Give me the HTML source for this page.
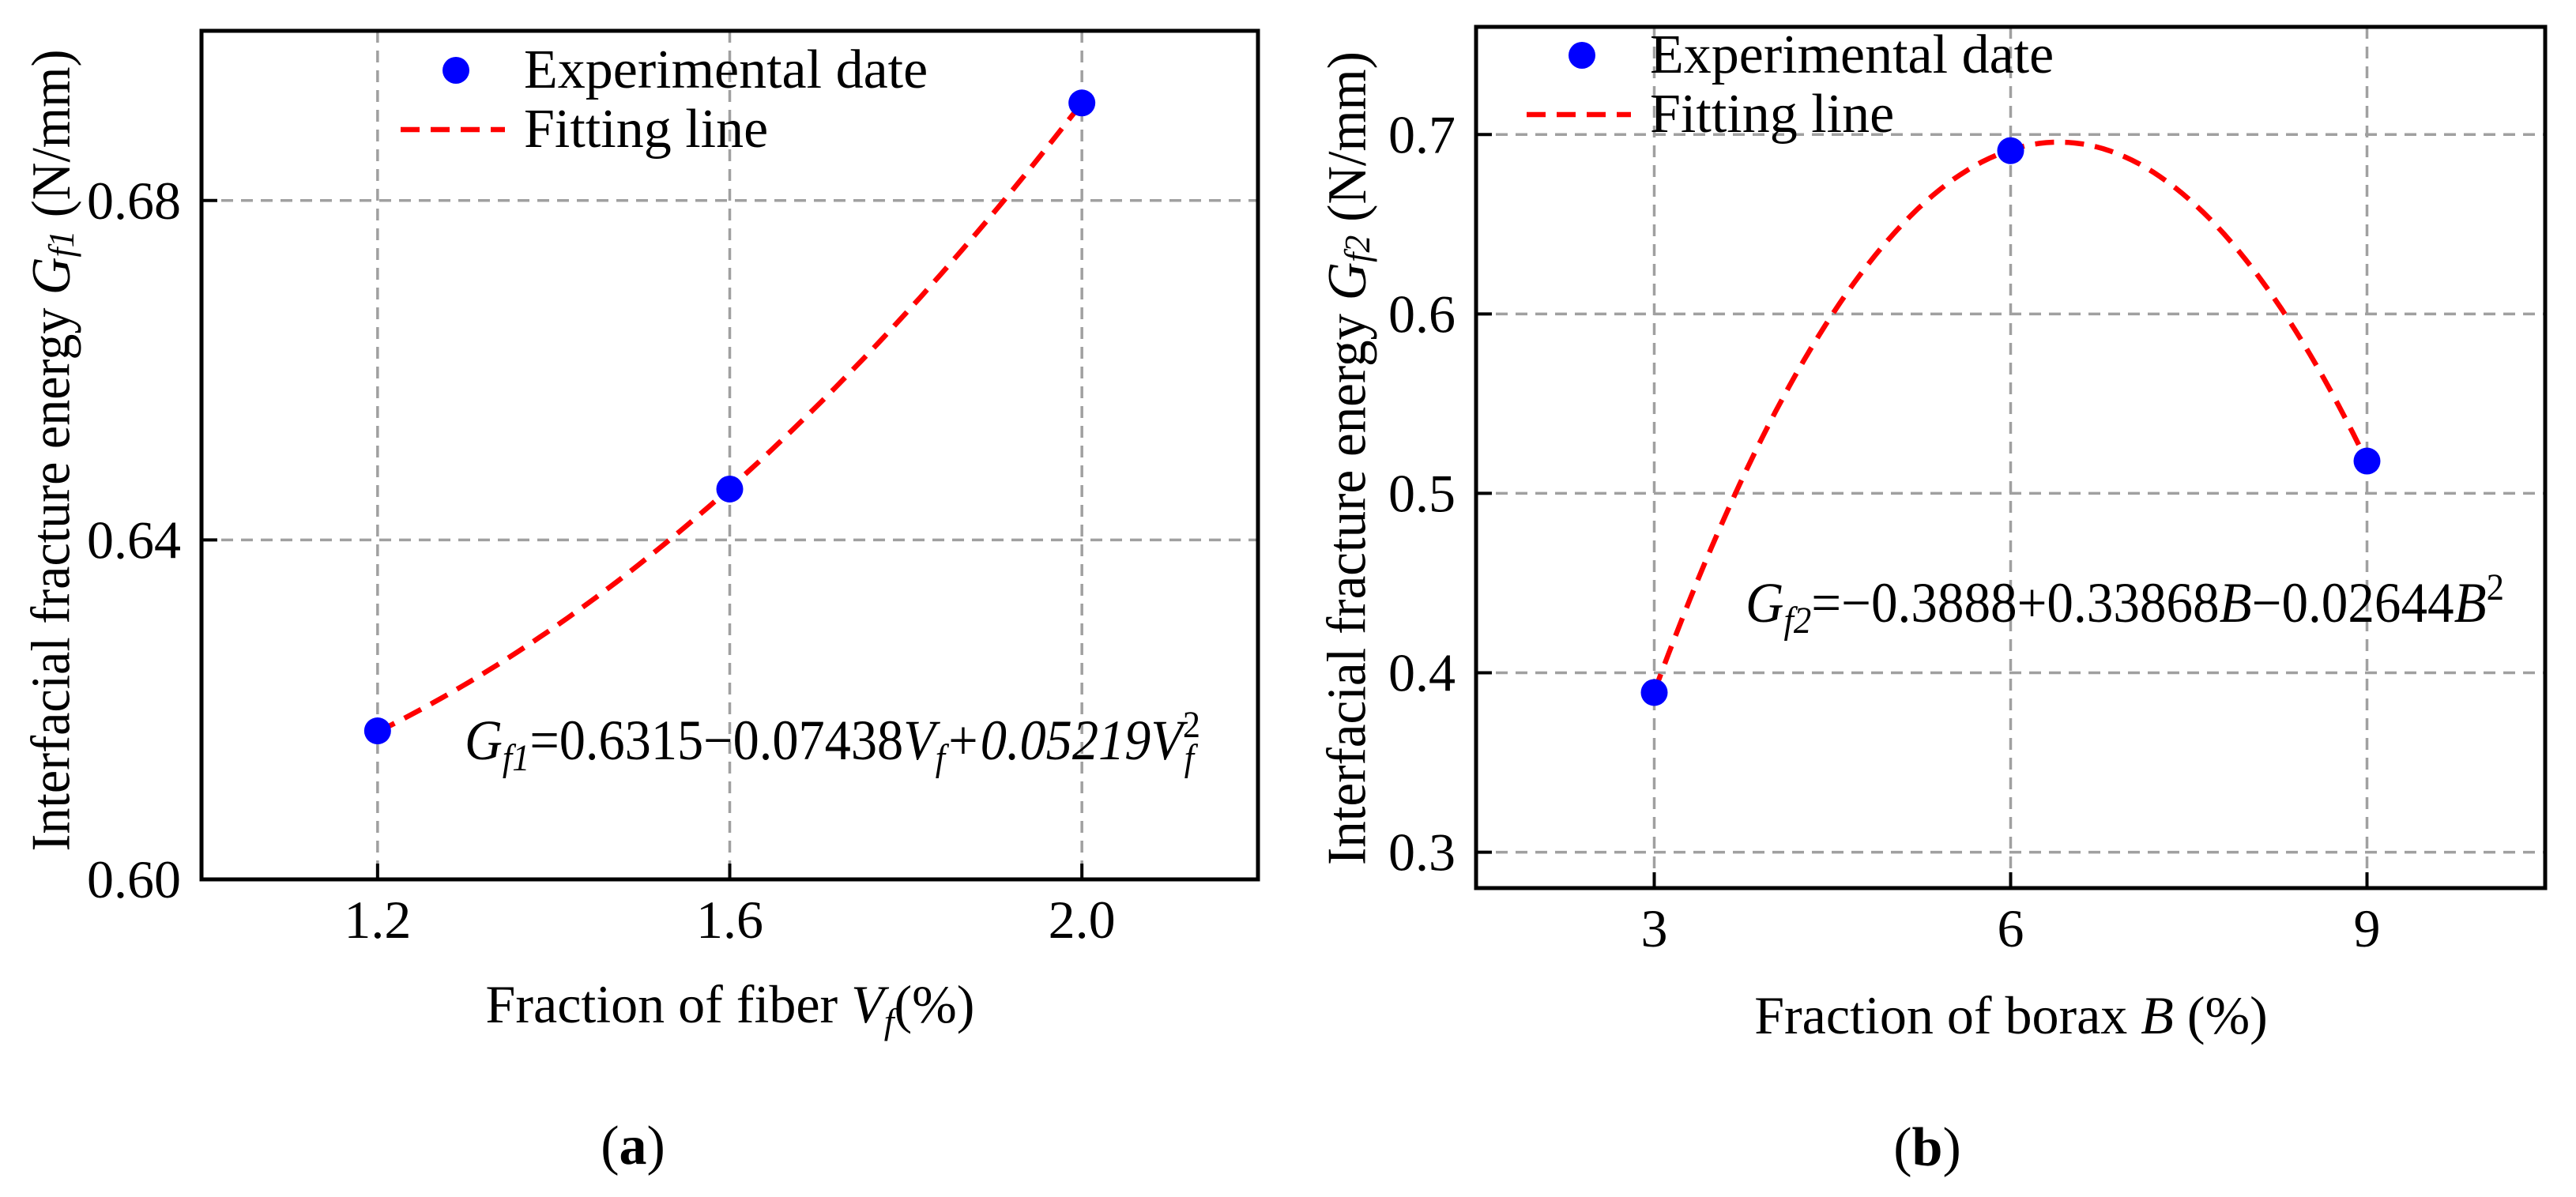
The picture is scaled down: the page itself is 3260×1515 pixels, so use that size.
<!DOCTYPE html>
<html><head><meta charset="utf-8"><style>
html,body{margin:0;padding:0;background:#fff;}
svg{display:block;font-family:"Liberation Serif",serif;}
</style></head><body>
<svg id="fig" width="3260" height="1515" viewBox="0 0 3260 1515"></svg>
<script>
// Panel (a) data
const aCategories = [1.2, 1.6, 2.0];
const aValues = [0.6175, 0.646, 0.6915];
const aCoeffs = [0.6315, -0.07438, 0.05219];
const aXTicks = [1.2, 1.6, 2.0];
const aXTickLabels = ["1.2", "1.6", "2.0"];
const aYTicks = [0.60, 0.64, 0.68];
const aYTickLabels = ["0.60", "0.64", "0.68"];
// Panel (b) data
const bCategories = [3, 6, 9];
const bValues = [0.389, 0.691, 0.518];
const bCoeffs = [-0.3888, 0.33868, -0.02644];
const bXTicks = [3, 6, 9];
const bXTickLabels = ["3", "6", "9"];
const bYTicks = [0.3, 0.4, 0.5, 0.6, 0.7];
const bYTickLabels = ["0.3", "0.4", "0.5", "0.6", "0.7"];

const NS = "http://www.w3.org/2000/svg";
const svg = document.getElementById("fig");
function mk(tag, attrs, parent) {
  const e = document.createElementNS(NS, tag);
  for (const k in attrs) e.setAttribute(k, attrs[k]);
  (parent || svg).appendChild(e);
  return e;
}

function panel(cfg) {
  const g = mk("g", {});
  
  
  const sx = v => cfg.L + (v - cfg.x0) / (cfg.x1 - cfg.x0) * (cfg.R - cfg.L);
  const sy = v => cfg.B - (v - cfg.y0) / (cfg.y1 - cfg.y0) * (cfg.B - cfg.T);
  cfg.xt.forEach((v, i) => {
    const l = mk("line", {x1: sx(v), x2: sx(v), y1: cfg.T, y2: cfg.B, stroke: "#a0a0a0", "stroke-width": 3.5, "stroke-dasharray": "15,10"}, g);
    
    
    const t = mk("line", {x1: sx(v), x2: sx(v), y1: cfg.B, y2: cfg.B - 20, stroke: "#000", "stroke-width": 4}, g);
    
    
    const tx = mk("text", {x: sx(v), y: cfg.B + 74, "font-size": 68, "text-anchor": "middle"}, g);
    tx.textContent = cfg.xl[i];
    
    
  });
  cfg.yt.forEach((v, i) => {
    const l = mk("line", {x1: cfg.L, x2: cfg.R, y1: sy(v), y2: sy(v), stroke: "#a0a0a0", "stroke-width": 3.5, "stroke-dasharray": "15,10"}, g);
    
    
    const t = mk("line", {x1: cfg.L, x2: cfg.L + 20, y1: sy(v), y2: sy(v), stroke: "#000", "stroke-width": 4}, g);
    
    
    const tx = mk("text", {x: cfg.L - 26, y: sy(v) + 23, "font-size": 68, "text-anchor": "end"}, g);
    tx.textContent = cfg.yl[i];
    
    
  });
  let d = "";
  const n = 100;
  for (let i = 0; i <= n; i++) {
    const x = cfg.cat[0] + (cfg.cat[cfg.cat.length - 1] - cfg.cat[0]) * i / n;
    const y = cfg.c[0] + cfg.c[1] * x + cfg.c[2] * x * x;
    d += (i ? "L" : "M") + sx(x).toFixed(1) + "," + sy(y).toFixed(1);
  }
  const p = mk("path", {d: d, fill: "none", stroke: "#ff0000", "stroke-width": 6.5, "stroke-dasharray": "24,14"}, g);
  
  
  cfg.cat.forEach((x, i) => {
    const c = mk("circle", {cx: sx(x), cy: sy(cfg.val[i]), r: 17, fill: "#0000ff"}, g);
    
    
  });
  const box = mk("rect", {x: cfg.L, y: cfg.T, width: cfg.R - cfg.L, height: cfg.B - cfg.T, fill: "none", stroke: "#000", "stroke-width": 5}, g);
  
  
  const lg = mk("g", {}, g);
  
  
  const lm = mk("circle", {cx: cfg.lx + 70, cy: cfg.ly - 22, r: 17, fill: "#0000ff"}, lg);
  
  
  const lt1 = mk("text", {x: cfg.lx + 156, y: cfg.ly, "font-size": 70}, lg);
  lt1.textContent = "Experimental date";
  
  
  const ll = mk("line", {x1: cfg.lx, x2: cfg.lx + 132, y1: cfg.ly + 53, y2: cfg.ly + 53, stroke: "#ff0000", "stroke-width": 6.5, "stroke-dasharray": "24,14"}, lg);
  
  
  const lt2 = mk("text", {x: cfg.lx + 156, y: cfg.ly + 75, "font-size": 70}, lg);
  lt2.textContent = "Fitting line";
  
  
  return g;
}

panel({name: "panel-a", L: 255, R: 1592, T: 39, B: 1113, x0: 1.0, x1: 2.2, y0: 0.60, y1: 0.70,
  xt: aXTicks, xl: aXTickLabels, yt: aYTicks, yl: aYTickLabels, cat: aCategories, val: aValues, c: aCoeffs, lx: 507, ly: 111});
panel({name: "panel-b", L: 1868, R: 3221, T: 34, B: 1124, x0: 1.5, x1: 10.5, y0: 0.28, y1: 0.76,
  xt: bXTicks, xl: bXTickLabels, yt: bYTicks, yl: bYTickLabels, cat: bCategories, val: bValues, c: bCoeffs, lx: 1932, ly: 92});
</script>
<svg width="3260" height="1515" viewBox="0 0 3260 1515" style="position:absolute;left:0;top:0;font-family:'Liberation Serif',serif;">
  <text x="65" y="570" font-size="70" text-anchor="middle" dominant-baseline="central" textLength="1015" lengthAdjust="spacingAndGlyphs" transform="rotate(-90 65 570)">Interfacial fracture energy <tspan font-style="italic">G</tspan><tspan font-style="italic" font-size="46" dy="12">f1</tspan><tspan dy="-12"> (N/mm)</tspan></text>
  <text x="924" y="1294" font-size="68" text-anchor="middle">Fraction of fiber <tspan font-style="italic">V</tspan><tspan font-style="italic" font-size="46" dy="14">f</tspan><tspan dy="-14">(%)</tspan></text>
  <text x="588" y="961" font-size="72" textLength="931" lengthAdjust="spacingAndGlyphs"><tspan font-style="italic">G</tspan><tspan font-style="italic" font-size="48" dy="14">f1</tspan><tspan dy="-14">=0.6315−0.07438</tspan><tspan font-style="italic">V</tspan><tspan font-style="italic" font-size="48" dy="14">f</tspan><tspan font-style="italic" dy="-14">+0.05219V</tspan><tspan font-size="48" dy="-28">2</tspan><tspan font-style="italic" font-size="48" dx="-22" dy="42">f</tspan></text>
  <text x="801" y="1473" font-size="70" text-anchor="middle">(<tspan font-weight="bold">a</tspan>)</text>
  <text x="1705" y="580" font-size="70" text-anchor="middle" dominant-baseline="central" textLength="1030" lengthAdjust="spacingAndGlyphs" transform="rotate(-90 1705 580)">Interfacial fracture energy <tspan font-style="italic">G</tspan><tspan font-style="italic" font-size="46" dy="12">f2</tspan><tspan dy="-12"> (N/mm)</tspan></text>
  <text x="2545" y="1308" font-size="68" text-anchor="middle">Fraction of borax <tspan font-style="italic">B</tspan> (%)</text>
  <text x="2209" y="787" font-size="72" textLength="960" lengthAdjust="spacingAndGlyphs"><tspan font-style="italic">G</tspan><tspan font-style="italic" font-size="48" dy="14">f2</tspan><tspan dy="-14">=−0.3888+0.33868</tspan><tspan font-style="italic">B</tspan><tspan>−0.02644</tspan><tspan font-style="italic">B</tspan><tspan font-size="48" dy="-28">2</tspan></text>
  <text x="2439" y="1475" font-size="70" text-anchor="middle">(<tspan font-weight="bold">b</tspan>)</text>
</svg>
</body></html>
